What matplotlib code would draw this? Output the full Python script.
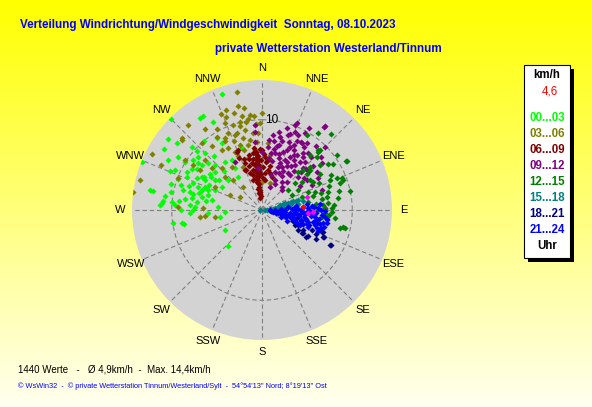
import numpy as np
import matplotlib
matplotlib.use('Agg')
import matplotlib.pyplot as plt
from matplotlib.patches import Rectangle

plt.rcParams['font.family'] = ['Liberation Sans', 'DejaVu Sans']

# Werte: (Richtung in Grad, Geschwindigkeit in km/h)
h00_03 = [(341, 13.6), (315, 14.3), (328, 12.3), (326, 12.3), (331, 11.1), (307, 13.0), (302, 12.8),
          (312, 10.5), (312, 9.7), (315, 9.0), (328, 9.4), (329, 8.6), (292, 14.3), (302, 11.0),
          (302, 10.0), (293, 11.1), (295, 10.6), (280, 12.3), (278, 10.8), (273, 11.3), (262, 10.0),
          (260, 8.8), (242, 4.7), (223, 5.5), (306, 9.5), (307, 8.3), (311, 7.9), (314, 7.2),
          (322, 6.7), (329, 6.5), (327, 5.5), (302, 6.2), (290, 6.4), (282, 6.8), (273, 7.4),
          (268, 8.0), (300, 5.1), (311, 5.0), (284, 9.0), (294, 9.1), (302, 8.5), (298, 7.1),
          (281, 5.6), (274, 4.9), (267, 4.1), (280, 7.9), (290, 9.9), (324, 4.5), (342, 7.2),
          (309, 6.7), (290, 7.5), (267, 6.0), (260, 4.7), (274, 8.0), (275, 10.0), (299, 7.6),
          (274, 11.1), (296, 8.0), (305, 7.0), (288, 8.5), (292, 6.8), (285, 7.2), (300, 9.0),
          (318, 8.0), (320, 10.0), (286, 10.5), (276, 9.2), (270, 9.0), (298, 11.8), (308, 12.0),
          (273, 9.6), (261, 9.0), (280, 12.6), (275, 11.0),
          (295, 6.5), (300, 7.4), (303, 6.8), (288, 7.0), (283, 7.8), (277, 7.2), (286, 6.2),
          (291, 8.2), (297, 9.3), (306, 8.8), (310, 9.2), (278, 8.6), (284, 8.2), (270, 7.6),
          (279, 6.3), (293, 5.6), (305, 5.8), (316, 6.0), (287, 9.4), (281, 10.3)]
h03_06 = [(348, 13.4), (337, 11.5), (319, 12.5), (311, 11.8), (348, 10.7), (346, 10.0), (341, 10.0),
          (337, 10.5), (331, 10.2), (336, 9.3), (340, 8.8), (345, 8.3), (348, 9.1), (353, 8.6),
          (348, 7.4), (341, 7.6), (331, 7.8), (326, 8.0), (318, 10.0), (311, 8.4), (303, 10.2),
          (303, 9.1), (303, 8.2), (310, 7.2), (316, 6.4), (325, 5.8), (336, 6.5), (336, 5.2),
          (316, 4.6), (312, 5.5), (296, 5.8), (301, 2.8), (320, 3.3), (295, 3.9), (272, 9.3),
          (272, 6.5), (264, 6.9), (262, 5.3), (264, 6.4), (297, 13.7), (294, 12.2), (284, 13.9),
          (278, 14.4), (345, 6.0), (353, 6.7), (0, 10.7), (359, 9.6), (353, 10.6), (355, 10.5),
          (356, 9.5), (357, 8.5), (356, 7.5), (355, 6.5), (353, 5.8), (5, 7.4), (8, 6.2),
          (16, 3.1), (0, 3.1), (339, 11.0), (344, 11.2), (333, 9.0), (350, 11.5), (291, 10.0),
          (312, 11.9),
          (342, 9.0), (345, 9.6), (350, 9.9), (338, 8.2), (343, 7.0), (350, 7.9), (332, 8.7),
          (328, 9.5), (335, 7.1), (351, 10.2), (340, 11.8), (325, 11.0), (322, 9.0), (347, 11.8)]
h06_09 = [(351, 1.4), (353, 1.8), (354, 2.2), (352, 2.6), (351, 3.0), (352, 3.4), (351, 3.7),
          (353, 4.1), (353, 4.5), (352, 4.9), (353, 5.2), (354, 5.6), (355, 5.9), (354, 6.2),
          (354, 6.5), (356, 1.6), (349, 2.4), (350, 3.2), (355, 4.3), (356, 5.0), (357, 5.5),
          (342, 4.3), (343, 3.5), (348, 5.3), (340, 5.5), (337, 7.0), (345, 4.0), (339, 4.8),
          (346, 5.8), (341, 6.0), (336, 6.3), (338, 7.2), (337, 4.8),
          (3, 5.9), (8, 4.5), (17, 3.8), (6, 3.3), (1, 4.8), (5, 5.3), (12, 4.2), (2, 6.2),
          (10, 4.9), (358, 6.8), (0, 6.6),
          (350, 1.9), (355, 2.0), (353, 2.9), (349, 3.6), (355, 3.8), (350, 4.4), (356, 4.6),
          (351, 5.1), (350, 5.7), (356, 6.0), (351, 6.4), (353, 6.9), (347, 4.6), (358, 4.0),
          (344, 5.1), (347, 6.3), (359, 5.5), (4, 4.1), (2, 3.6), (7, 5.6)]
h09_12 = [(21, 10.1), (37, 11.6), (19, 8.8), (14, 8.3), (8, 8.4), (31, 8.6), (39, 8.1), (49, 7.5),
          (55, 7.4), (72, 7.0), (23, 7.2), (33, 6.6), (25, 6.1), (13, 6.5), (5, 7.0), (20, 5.1),
          (35, 5.0), (48, 5.4), (23, 3.6), (41, 3.4), (19, 2.7), (34, 8.4), (26, 9.2), (22, 10.4),
          (37, 11.5), (23, 9.4), (30, 8.7), (20, 6.8), (354, 7.6), (355, 8.7), (331, 6.1),
          (0, 6.4), (355, 4.7), (88, 7.0), (56, 6.0), (60, 7.2), (45, 3.1), (42, 4.2), (52, 8.5),
          (28, 7.5), (15, 7.4), (10, 7.8), (27, 6.0), (38, 6.8), (44, 6.5), (30, 5.6), (18, 6.0),
          (12, 5.5), (36, 7.8), (26, 8.0), (42, 7.2), (46, 6.0), (31, 4.4), (24, 4.5), (17, 9.5),
          (29, 9.8), (15, 4.0), (8, 5.8), (355, 9.4), (40, 9.3), (50, 6.8), (64, 6.2), (58, 5.0),
          (11, 6.9), (16, 7.9), (22, 8.1), (27, 8.6), (33, 7.2), (36, 6.2), (40, 5.6), (33, 5.8),
          (28, 6.6), (21, 5.6), (17, 6.5), (13, 7.3), (9, 6.4), (24, 7.6), (30, 7.0), (38, 7.4),
          (43, 8.0), (47, 6.6), (25, 5.3), (19, 4.5), (28, 4.9), (34, 9.0), (20, 9.0), (12, 8.8),
          (6, 7.8), (39, 5.0), (53, 5.8), (35, 3.8), (27, 3.2), (30, 10.5), (45, 9.8), (48, 8.8)]
h12_15 = [(42, 11.4), (31, 9.7), (60, 10.8), (44, 8.9), (46, 8.5), (57, 9.4), (67, 9.0), (70, 9.6),
          (71, 9.1), (75, 7.6), (81, 8.5), (52, 8.1), (50, 6.9), (61, 6.4), (51, 6.4), (44, 5.8),
          (55, 5.4), (51, 4.7), (52, 3.6), (63, 3.7), (69, 5.5), (71, 6.2), (80, 6.7), (88, 7.8),
          (92, 7.8), (96, 8.1), (102, 9.2), (102, 9.4), (90, 6.2), (87, 5.7), (97, 6.7), (99, 7.3),
          (61, 4.6), (72, 4.7), (103, 8.9), (84, 7.4), (43, 9.1), (41, 8.1), (46, 6.3), (68, 9.6),
          (78, 10.0), (60, 10.9), (44, 9.2), (65, 7.0), (75, 5.8), (58, 7.6), (85, 6.8), (93, 7.0),
          (80, 5.2), (66, 8.2), (54, 10.3), (36, 10.6), (76, 8.8), (48, 7.2),
          (79, 7.3), (84, 6.0), (89, 7.0), (74, 6.8), (70, 7.9), (63, 8.6), (58, 6.3), (55, 8.9),
          (86, 8.0), (94, 7.4)]
h15_18 = [(270, 0.2), (90, 0.3), (88, 0.6), (86, 0.9), (84, 1.2), (80, 1.5), (78, 1.8), (76, 2.1),
          (75, 2.4), (74, 2.7), (74, 3.0), (75, 3.3), (74, 3.6), (75, 3.9), (74, 4.1), (82, 1.0),
          (85, 1.6), (80, 2.2), (78, 2.8), (77, 3.4), (80, 4.0), (78, 4.6), (82, 3.0), (84, 2.5),
          (88, 1.9), (92, 1.2), (92, 0.8)]
h18_21 = [(119, 4.6), (119.5, 5.9), (119, 5.2), (110, 7.2), (113.5, 7.5), (117, 8.5), (121, 5.7),
          (120, 5.1), (114, 7.4), (117, 8.6), (110, 7.1), (112.6, 4.3), (96, 1.0), (99, 2.0),
          (100, 3.0), (102, 4.0), (103, 5.0), (103, 6.3), (108, 5.5), (106, 4.5), (110, 3.6),
          (115, 4.0), (116, 5.0), (112, 6.0), (118, 6.8), (114, 6.5), (108, 6.8), (105, 2.6),
          (98, 1.5)]
h21_24 = [(92, 0.9), (98, 1.2), (88, 1.4), (104, 1.6), (95, 1.9), (86, 2.1), (110, 2.2), (100, 2.4),
          (91, 2.6), (84, 2.9), (106, 2.8), (97, 3.1), (113, 3.0), (88, 3.3), (102, 3.5), (94, 3.7),
          (83, 3.8), (108, 3.9), (99, 4.1), (90, 4.3), (104, 4.4), (86, 4.6), (112, 4.5), (95, 4.8),
          (101, 5.0), (82, 5.0), (107, 5.2), (91, 5.3), (97, 5.5), (85, 5.6), (110, 5.4), (103, 5.8),
          (93, 6.0), (88, 6.2), (106, 6.1), (99, 6.4), (84, 6.5), (108, 6.4), (95, 6.7), (102, 6.9),
          (91, 7.0), (105, 7.1), (98, 7.3), (100, 6.1), (96, 4.2), (92, 5.0), (89, 4.0), (105, 3.3),
          (93, 2.2), (101, 1.8), (87, 5.8), (109, 4.8), (111, 6.6), (101, 7.3),
          (96, 2.6), (102, 2.9), (90, 3.5), (97, 3.9), (106, 3.7), (93, 4.5), (100, 4.7), (88, 5.1),
          (104, 5.3), (94, 5.6), (98, 5.9), (90, 6.5), (104, 6.6), (96, 7.0), (107, 6.8), (86, 3.6),
          (110, 4.1), (99, 3.5)]
magenta_pts = [(74, 5.2), (94, 5.1), (92, 5.6)]
aktuell = [(86, 4.6)]

gruppen = [h00_03, h03_06, h06_09, h09_12, h12_15, h15_18, h18_21, h21_24]
gruppen_namen = ['00...03', '03...06', '06...09', '09...12', '12...15', '15...18', '18...21', '21...24']
farben = ['#00ff00', '#808000', '#800000', '#800080', '#008000', '#008080', '#000080', '#0000ff']
richtungen = ['N', 'NNE', 'NE', 'ENE', 'E', 'ESE', 'SE', 'SSE',
              'S', 'SSW', 'SW', 'WSW', 'W', 'WNW', 'NW', 'NNW']
v_max = 14.4

W, H = 592, 407
fig = plt.figure(figsize=(W / 100, H / 100), dpi=100)

# Hintergrund: Verlauf gelb -> hellgelb
bg = fig.add_axes([0, 0, 1, 1], zorder=0)
t = np.linspace(0, 1, 256).reshape(-1, 1)
img = np.ones((256, 1, 3))
img[:, :, 2] = t * 0.94
bg.imshow(img, aspect='auto', extent=[0, 1, 0, 1])
bg.axis('off')

# Polardiagramm
cx, cy, rad = 262, 210, 130
ax = fig.add_axes([(cx - rad) / W, (H - cy - rad) / H, 2 * rad / W, 2 * rad / H],
                  projection='polar', zorder=1)
ax.set_facecolor('#d3d3d3')
ax.set_theta_zero_location('N')
ax.set_theta_direction(-1)
ax.set_ylim(0, v_max)
ax.set_xticks(np.deg2rad(np.arange(0, 360, 22.5)))
ax.set_xticklabels([])
ax.set_yticks([10])
ax.set_yticklabels([])
ax.grid(True, color='#808080', linestyle=(0, (4, 2.5)), linewidth=0.8)
ax.spines['polar'].set_visible(False)

for i, lab in enumerate(richtungen):
    ax.text(np.deg2rad(i * 22.5), v_max * 142 / 130, lab, ha='center', va='center',
            fontsize=8, color='black', clip_on=False)
ax.annotate('10', xy=(0, 10), xytext=(2.5, 0), textcoords='offset points',
            ha='left', va='center', fontsize=8.5, color='black')

for pts, c in zip(gruppen, farben):
    d, s = np.array(pts).T
    ax.plot(np.deg2rad(d), s, 'D', color=c, ms=3.1, mew=0, ls='none')
d, s = np.array(magenta_pts).T
ax.plot(np.deg2rad(d), s, 'D', color='#ff00ff', ms=3.1, mew=0, ls='none')
d, s = np.array(aktuell).T
ax.plot(np.deg2rad(d), s, 'D', color='#ff0000', ms=3.1, mew=0, ls='none')


def px(x, y):
    return x / W, 1 - y / H


# Titel
fig.text(*px(20, 25), 'Verteilung Windrichtung/Windgeschwindigkeit  Sonntag, 08.10.2023',
         ha='left', va='center', fontsize=8.4, fontweight='bold', color='#0000ff')
fig.text(*px(215, 49), 'private Wetterstation Westerland/Tinnum',
         ha='left', va='center', fontsize=8.4, fontweight='bold', color='#0000ff')

# Legende
fig.add_artist(Rectangle(px(528, 262), 46 / W, 193 / H, transform=fig.transFigure,
                         facecolor='black', edgecolor='none', zorder=3))
fig.add_artist(Rectangle(px(524, 258), 46 / W, 193 / H, transform=fig.transFigure,
                         facecolor='white', edgecolor='black', linewidth=0.8, zorder=4))
lx = 547
fig.text(*px(lx, 75), 'km/h', ha='center', va='center', fontsize=8.3, fontweight='bold',
         color='black', zorder=5)
fig.text(*px(lx + 3, 92), '4,6', ha='center', va='center', fontsize=8.3, color='#ff0000', zorder=5)
for i, (name, c) in enumerate(zip(gruppen_namen, farben)):
    fig.text(*px(lx, 118 + 16 * i), name, ha='center', va='center', fontsize=8.3,
             fontweight='bold', color=c, zorder=5)
fig.text(*px(lx, 246), 'Uhr', ha='center', va='center', fontsize=8.3, fontweight='bold',
         color='black', zorder=5)

# Fusszeilen
fig.text(*px(18, 369), '1440 Werte   -   Ø 4,9km/h  -  Max. 14,4km/h',
         ha='left', va='center', fontsize=7.0, color='black')
fig.text(*px(18, 386),
         "© WsWin32  -  © private Wetterstation Tinnum/Westerland/Sylt  -  54°54'13'' Nord; 8°19'13'' Ost",
         ha='left', va='center', fontsize=5.3, color='#0000ff')

fig.savefig('out.png', dpi=100)
